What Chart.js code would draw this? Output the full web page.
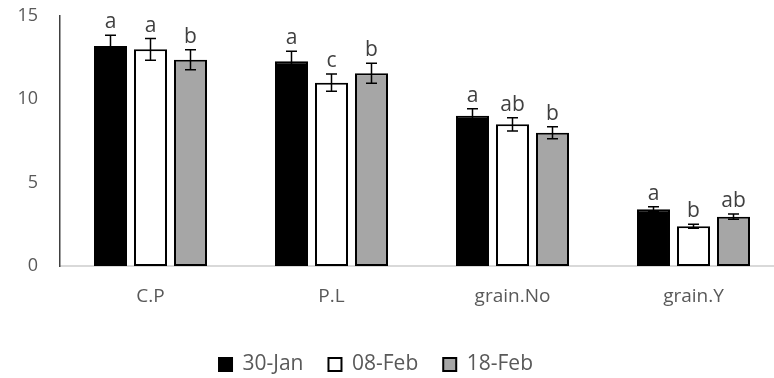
<!DOCTYPE html>
<html>
<head>
<meta charset="utf-8">
<script src="https://cdn.jsdelivr.net/npm/chart.js@4"></script>
<style>
    html, body { margin: 0; padding: 0; background: #fff; overflow: hidden; }
    #wrap { width: 786px; height: 378px; }
</style>
</head>
<body>
<div id="wrap"><canvas id="chart"></canvas></div>
<script>
// Values
const categories = ["C.P", "P.L", "grain.No", "grain.Y"];
const seriesNames = ["30-Jan", "08-Feb", "18-Feb"];
const jan30 = [13.2, 12.28, 9.02, 3.4];
const feb08 = [13.0, 11.0, 8.5, 2.38];
const feb18 = [12.38, 11.56, 8.0, 2.96];
const jan30Err = [0.65, 0.6, 0.42, 0.15];
const feb08Err = [0.65, 0.52, 0.4, 0.12];
const feb18Err = [0.6, 0.6, 0.36, 0.16];
const jan30Letters = ["a", "a", "a", "a"];
const feb08Letters = ["a", "c", "ab", "b"];
const feb18Letters = ["b", "b", "b", "ab"];
const yTicks = [0, 5, 10, 15];

const fills = ["#000000", "#ffffff", "#a6a6a6"];
const textColor = "#595959";
const fontFamily = "'Open Sans', Lato, sans-serif";

// Draw error bars and significance letters on top of the bars
const errorBarPlugin = {
    id: "errorBars",
    afterDatasetsDraw(chart) {
        const ctx = chart.ctx;
        const yScale = chart.scales.y;
        chart.data.datasets.forEach((ds, i) => {
            const meta = chart.getDatasetMeta(i);
            meta.data.forEach((bar, j) => {
                const v = ds.data[j];
                const e = ds.errors[j];
                const yTop = yScale.getPixelForValue(v + e);
                const yBot = yScale.getPixelForValue(v - e);
                const x = bar.x;
                const cap = 5.5;
                ctx.save();
                ctx.strokeStyle = "#000";
                ctx.lineWidth = 1.5;
                ctx.beginPath();
                ctx.moveTo(x, yTop);
                ctx.lineTo(x, yBot);
                ctx.moveTo(x - cap, yTop);
                ctx.lineTo(x + cap, yTop);
                ctx.moveTo(x - cap, yBot);
                ctx.lineTo(x + cap, yBot);
                ctx.stroke();

                ctx.fillStyle = "#404040";
                ctx.font = "21px " + fontFamily;
                ctx.textAlign = "center";
                ctx.textBaseline = "alphabetic";
                ctx.fillText(ds.letters[j], x, yTop - 7);
                ctx.restore();
            });
        });
    },
};

// Move the legend to where the reference has it
const legendShift = {
    id: "legendShift",
    afterLayout(chart) {
        const lg = chart.legend;
        lg.left -= 16;
        lg.right -= 16;
        lg.top += 7;
        lg.bottom += 7;
    },
};

const datasets = [
    { label: seriesNames[0], data: jan30, errors: jan30Err, letters: jan30Letters },
    { label: seriesNames[1], data: feb08, errors: feb08Err, letters: feb08Letters },
    { label: seriesNames[2], data: feb18, errors: feb18Err, letters: feb18Letters },
].map((d, i) => ({
    ...d,
    backgroundColor: fills[i],
    borderColor: "#000000",
    borderWidth: 2,
    borderSkipped: false,
    categoryPercentage: 0.663,
    barPercentage: 0.825,
}));

new Chart(document.getElementById("chart"), {
    type: "bar",
    data: { labels: categories, datasets: datasets },
    options: {
        responsive: true,
        maintainAspectRatio: false,
        animation: false,
        layout: { padding: { top: 16, right: 2, left: 0, bottom: 0 } },
        scales: {
            x: {
                afterFit: (scale) => {
                    scale.height = 56;
                },
                grid: { display: false, drawTicks: false },
                border: { display: true, color: "#d9d9d9", width: 2 },
                ticks: {
                    color: textColor,
                    padding: 19,
                    font: { family: fontFamily, size: 19 },
                },
            },
            y: {
                min: 0,
                max: 15,
                afterBuildTicks: (scale) => {
                    scale.ticks = yTicks.map((v) => ({ value: v }));
                },
                afterFit: (scale) => {
                    scale.width = 60;
                    scale.paddingTop = 0;
                    scale.paddingBottom = 0;
                },
                grid: { display: false, drawTicks: false },
                border: { display: true, color: "#404040", width: 1.5 },
                ticks: {
                    color: textColor,
                    padding: 22,
                    font: { family: fontFamily, size: 18 },
                },
            },
        },
        plugins: {
            legend: {
                position: "bottom",
                labels: {
                    color: textColor,
                    boxWidth: 13,
                    boxHeight: 13,
                    padding: 25,
                    font: { family: fontFamily, size: 21 },
                },
            },
            tooltip: { enabled: false },
        },
    },
    plugins: [errorBarPlugin, legendShift],
});
</script>
</body>
</html>
